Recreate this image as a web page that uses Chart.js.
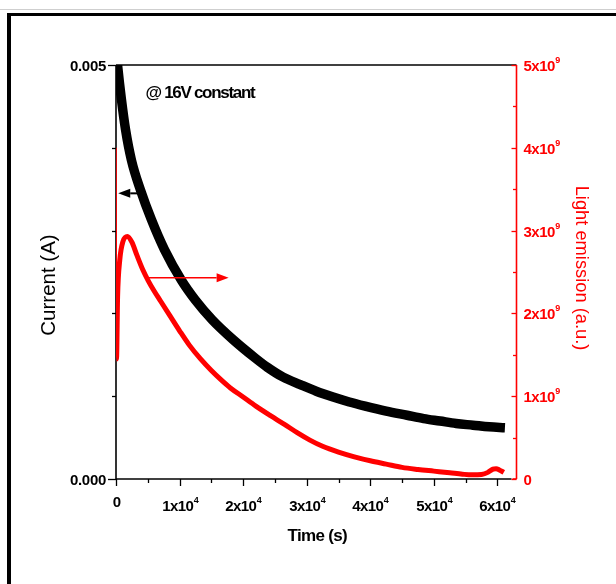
<!DOCTYPE html>
<html><head><meta charset="utf-8">
<script src="https://cdn.jsdelivr.net/npm/chart.js@4.4.0/dist/chart.umd.min.js"></script>
<style>html,body{margin:0;padding:0;background:#fff;} #wrap{width:616px;height:584px;position:relative;}</style>
</head><body><div id="wrap"><canvas id="c" width="616" height="584"></canvas></div>
<script>
// ---- data ----
const currentTime = [0, 240, 860, 1500, 2430, 3850, 5580, 7620, 10290, 12490, 15160, 18460, 21910, 23800, 26300, 28980, 31500, 34160, 36700, 39190, 42500, 45780, 48400, 50970, 53500, 56150, 58700, 61180];
const currentValues = [0.0052, 0.0050, 0.00458, 0.00422, 0.00385, 0.00349, 0.00313, 0.00277, 0.00240, 0.00216, 0.00192, 0.00168, 0.00146, 0.00135, 0.00123, 0.00114, 0.00106, 0.00099, 0.00093, 0.00088, 0.00082, 0.00077, 0.00073, 0.00070, 0.00067, 0.00065, 0.00063, 0.00062];
const lightTime = [0, 80, 250, 600, 1100, 1800, 2500, 3300, 4200, 5100, 6000, 7000, 8500, 10000, 11500, 13300, 15000, 16500, 18000, 20000, 22000, 24300, 26500, 28500, 30500, 32500, 35000, 37500, 40000, 42500, 45000, 47500, 50000, 52500, 54500, 56000, 57500, 58500, 59300, 59800, 60300, 61000];
const lightValues = [4.0e9, 1.45e9, 2.2e9, 2.65e9, 2.87e9, 2.93e9, 2.86e9, 2.70e9, 2.53e9, 2.39e9, 2.27e9, 2.15e9, 1.97e9, 1.79e9, 1.62e9, 1.45e9, 1.31e9, 1.20e9, 1.10e9, 0.99e9, 0.88e9, 0.765e9, 0.66e9, 0.56e9, 0.47e9, 0.395e9, 0.325e9, 0.268e9, 0.22e9, 0.18e9, 0.14e9, 0.115e9, 0.095e9, 0.075e9, 0.058e9, 0.05e9, 0.055e9, 0.08e9, 0.12e9, 0.125e9, 0.11e9, 0.08e9];
const xTickValues = [0, 10000, 20000, 30000, 40000, 50000, 60000];
const xTickLabels = ['0', '1x10^4', '2x10^4', '3x10^4', '4x10^4', '5x10^4', '6x10^4'];
const xMinorTicks = [5000, 15000, 25000, 35000, 45000, 55000];
const yTickValues = [0, 0.005];
const yTickLabels = ['0.000', '0.005'];
const yMinorTicks = [0.001, 0.002, 0.003, 0.004];
const y2TickValues = [0, 1e9, 2e9, 3e9, 4e9, 5e9];
const y2TickLabels = ['0', '1x10^9', '2x10^9', '3x10^9', '4x10^9', '5x10^9'];
const y2MinorTicks = [0.5e9, 1.5e9, 2.5e9, 3.5e9, 4.5e9];
const annotationText = '@ 16V constant';
const annotationPos = [4630, 0.0046];
const currentArrow = [3850, 350, 0.00345];   // from t, to t, current
const lightArrow = [4900, 17720, 2.43e9];     // from t, to t, light
const xTitle = 'Time (s)';
const yTitle = 'Current (A)';
const y2Title = 'Light emission (a.u.)';

const FONT = '"Liberation Sans", Arial, sans-serif';
const RED = '#ff0000';

function setFont(ctx, size, spacing, weight, family) {
  ctx.font = (weight || 'normal') + ' ' + size + 'px ' + (family || FONT);
  if ('letterSpacing' in ctx) ctx.letterSpacing = (spacing || 0) + 'px';
}
function hasNarrow(ctx) {
  ctx.font = '20px "Liberation Sans Narrow", monospace';
  const a = ctx.measureText('@ 16V constant mmm').width;
  ctx.font = '20px monospace';
  const b = ctx.measureText('@ 16V constant mmm').width;
  return Math.abs(a - b) > 0.5;
}
function sciWidth(ctx, label, size, sp) {
  const parts = label.split('^');
  setFont(ctx, size, sp, 'bold');
  let w = ctx.measureText(parts[0]).width;
  if (parts[1]) { setFont(ctx, size * 0.6, 0, 'bold'); w += ctx.measureText(parts[1]).width + 0.5; }
  return w;
}
function drawSci(ctx, label, x, y, size, color, align, sp) {
  const parts = label.split('^');
  const w = sciWidth(ctx, label, size, sp);
  let x0 = x;
  if (align === 'center') x0 = x - w / 2;
  else if (align === 'right') x0 = x - w;
  ctx.fillStyle = color;
  ctx.textAlign = 'left';
  ctx.textBaseline = 'alphabetic';
  setFont(ctx, size, sp, 'bold');
  ctx.fillText(parts[0], x0, y);
  if (parts[1]) {
    const mw = ctx.measureText(parts[0]).width;
    setFont(ctx, size * 0.6, 0, 'bold');
    ctx.fillText(parts[1], x0 + mw + 0.5, y - size * 0.55);
  }
}
function arrow(ctx, x1, y, x2, color, lw) {
  const dir = Math.sign(x2 - x1);
  const hl = 12, hw = 4.5;
  ctx.save();
  ctx.strokeStyle = color; ctx.fillStyle = color; ctx.lineWidth = lw;
  ctx.beginPath(); ctx.moveTo(x1, y); ctx.lineTo(x2 - dir * hl, y); ctx.stroke();
  ctx.beginPath(); ctx.moveTo(x2, y); ctx.lineTo(x2 - dir * hl, y - hw); ctx.lineTo(x2 - dir * hl, y + hw); ctx.closePath(); ctx.fill();
  ctx.restore();
}

const deco = {
  id: 'deco',
  beforeDraw(chart) {
    const ctx = chart.ctx;
    ctx.save();
    ctx.fillStyle = '#fff';
    ctx.fillRect(0, 0, chart.width, chart.height);
    ctx.fillStyle = '#cfcfcf';
    ctx.fillRect(0, 9, chart.width, 1);
    ctx.fillStyle = '#000';
    ctx.fillRect(7, 13, 4, chart.height - 13);
    ctx.fillRect(7, 13, chart.width - 7, 3);
    ctx.restore();
  },
  beforeDatasetsDraw(chart) {
    const ctx = chart.ctx;
    const xs = chart.scales.x, ys = chart.scales.y, y2 = chart.scales.y2;
    const L = xs.left, R = xs.right, T = ys.top, B = ys.bottom;
    ctx.save();
    ctx.lineWidth = 1.3;
    ctx.strokeStyle = '#000';
    ctx.beginPath(); ctx.moveTo(L, T); ctx.lineTo(R, T); ctx.stroke();
    ctx.lineWidth = 1.6;
    ctx.beginPath(); ctx.moveTo(L, T); ctx.lineTo(L, B); ctx.stroke();
    ctx.beginPath(); ctx.moveTo(L, B); ctx.lineTo(R - 5, B); ctx.stroke();
    ctx.strokeStyle = RED;
    ctx.beginPath(); ctx.moveTo(R, T); ctx.lineTo(R, B); ctx.stroke();
    ctx.beginPath(); ctx.moveTo(R - 4, B); ctx.lineTo(R, B); ctx.stroke();

    ctx.strokeStyle = '#000'; ctx.lineWidth = 1.3;
    xTickValues.forEach((v, i) => {
      const px = Math.round(xs.getPixelForValue(v)) + 0.5;
      ctx.beginPath(); ctx.moveTo(px, B); ctx.lineTo(px, B + 7); ctx.stroke();
      const lab = xTickLabels[i];
      drawSci(ctx, lab, px, lab.includes('^') ? 511 : 507, 15, '#000', 'center', -0.6);
    });
    xMinorTicks.forEach(v => {
      const px = Math.round(xs.getPixelForValue(v)) + 0.5;
      ctx.beginPath(); ctx.moveTo(px, B); ctx.lineTo(px, B + 4); ctx.stroke();
    });
    yTickValues.forEach((v, i) => {
      const py = Math.round(ys.getPixelForValue(v)) + 0.5;
      ctx.beginPath(); ctx.moveTo(L - 8, py); ctx.lineTo(L, py); ctx.stroke();
      drawSci(ctx, yTickLabels[i], L - 10, py + 5.5, 15, '#000', 'right', -0.3);
    });
    yMinorTicks.forEach(v => {
      const py = Math.round(ys.getPixelForValue(v)) + 0.5;
      ctx.beginPath(); ctx.moveTo(L - 4, py); ctx.lineTo(L, py); ctx.stroke();
    });
    ctx.strokeStyle = RED;
    y2TickValues.forEach((v, i) => {
      const py = Math.round(y2.getPixelForValue(v)) + 0.5;
      ctx.beginPath(); ctx.moveTo(R - 5, py); ctx.lineTo(R, py); ctx.stroke();
      drawSci(ctx, y2TickLabels[i], R + 7, py + 5.5, 15, RED, 'left', -0.5);
    });
    y2MinorTicks.forEach(v => {
      const py = Math.round(y2.getPixelForValue(v)) + 0.5;
      ctx.beginPath(); ctx.moveTo(R - 3.5, py); ctx.lineTo(R, py); ctx.stroke();
    });

    ctx.fillStyle = '#000';
    ctx.textAlign = 'center'; ctx.textBaseline = 'middle';
    setFont(ctx, 17, -0.7, 'bold');
    ctx.fillText(xTitle, (L + R) / 2 + 1, 536);
    ctx.save();
    ctx.translate(49, 285); ctx.rotate(-Math.PI / 2);
    setFont(ctx, 20.5, 0);
    ctx.fillText(yTitle, 0, 0);
    ctx.restore();
    ctx.save();
    ctx.fillStyle = RED;
    ctx.translate(581, 268); ctx.rotate(Math.PI / 2);
    setFont(ctx, 18.3, 0);
    ctx.fillText(y2Title, 0, 0);
    ctx.restore();
    ctx.restore();
  },
  afterDatasetsDraw(chart) {
    const ctx = chart.ctx;
    const xs = chart.scales.x, ys = chart.scales.y, y2 = chart.scales.y2;
    ctx.save();
    ctx.fillStyle = '#000';
    ctx.textAlign = 'left'; ctx.textBaseline = 'alphabetic';
    if (hasNarrow(ctx)) setFont(ctx, 19, 0, 'bold', '"Liberation Sans Narrow", "Liberation Sans", sans-serif');
    else setFont(ctx, 17, -1.3, 'bold');
    ctx.fillText(annotationText, xs.getPixelForValue(annotationPos[0]), ys.getPixelForValue(annotationPos[1]));
    arrow(ctx, xs.getPixelForValue(currentArrow[0]), ys.getPixelForValue(currentArrow[2]), xs.getPixelForValue(currentArrow[1]), '#000', 2);
    arrow(ctx, xs.getPixelForValue(lightArrow[0]), y2.getPixelForValue(lightArrow[2]), xs.getPixelForValue(lightArrow[1]), RED, 1.6);
    ctx.restore();
  }
};

new Chart(document.getElementById('c'), {
  type: 'line',
  data: {
    datasets: [
      {
        label: 'Light emission',
        data: lightTime.map((t, i) => ({ x: t, y: lightValues[i] })),
        yAxisID: 'y2',
        borderColor: RED,
        borderWidth: 5,
        pointRadius: 0,
        cubicInterpolationMode: 'monotone',
        clip: { left: 0, top: 0, right: 5, bottom: 5 },
        segment: { borderWidth: c => c.p0DataIndex === 0 ? 1.6 : undefined }
      },
      {
        label: 'Current',
        data: currentTime.map((t, i) => ({ x: t, y: currentValues[i] })),
        yAxisID: 'y',
        borderColor: '#000',
        borderWidth: 9.5,
        pointRadius: 0,
        cubicInterpolationMode: 'monotone',
        clip: { left: 0, top: 0, right: 5, bottom: 5 }
      }
    ]
  },
  options: {
    responsive: false,
    animation: false,
    devicePixelRatio: 1,
    layout: { padding: { left: 116, top: 65, right: 99.5, bottom: 105 } },
    plugins: { legend: { display: false }, tooltip: { enabled: false } },
    scales: {
      x: { type: 'linear', min: 0, max: 63000, display: false },
      y: { type: 'linear', min: 0, max: 0.005, display: false },
      y2: { type: 'linear', min: 0, max: 5e9, display: false, position: 'right' }
    }
  },
  plugins: [deco]
});
</script>
</body></html>
